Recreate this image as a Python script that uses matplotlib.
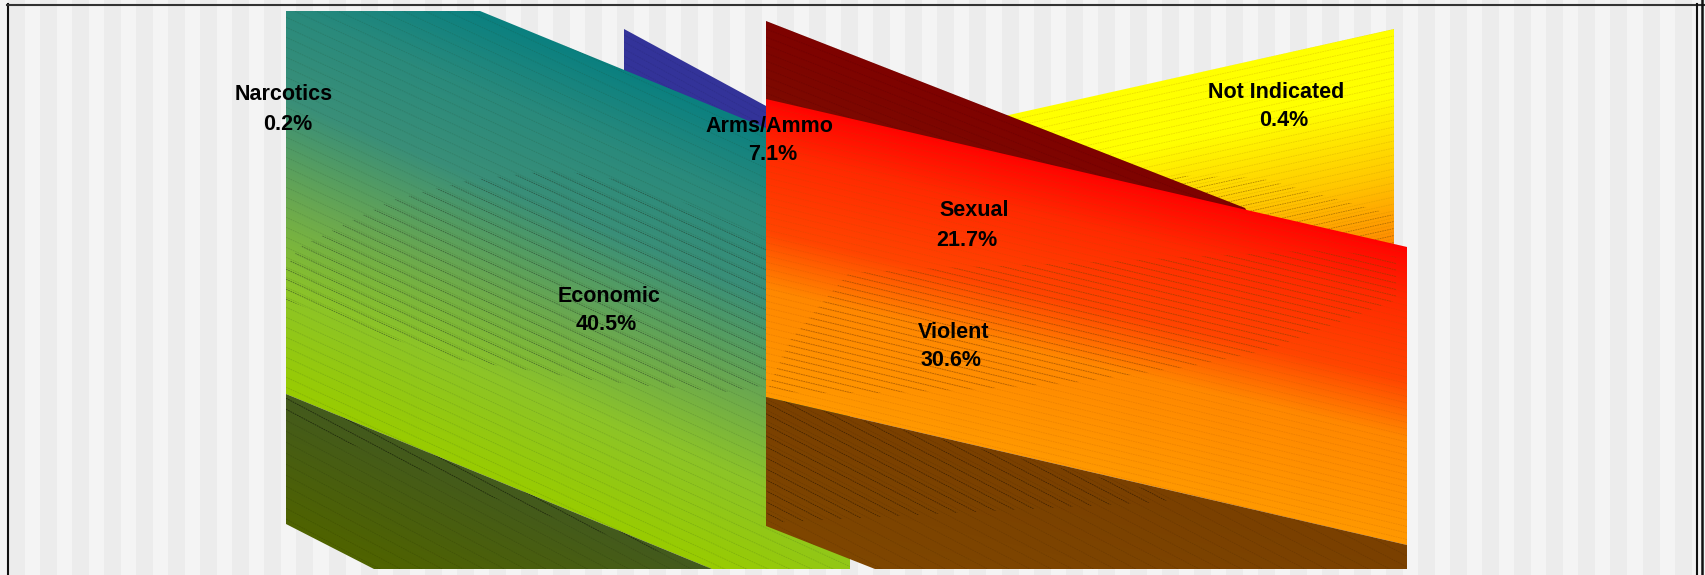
import numpy as np
import matplotlib
matplotlib.use('Agg')
import matplotlib.pyplot as plt
from matplotlib.patches import Polygon
from matplotlib.collections import LineCollection
from matplotlib.colors import to_rgb

# Chart values
categories = ['Narcotics', 'Economic', 'Arms/Ammo', 'Sexual', 'Violent', 'Not Indicated']
percents = [0.2, 40.5, 7.1, 21.7, 30.6, 0.4]

W, H = 1705, 575

# label placement, in pixels of the reference
name_x = [284, 609, 769, 974, 954, 1276]
name_y = [95, 297, 126, 211, 333, 93]
pct_x = [288, 606, 773, 967, 951, 1284]
pct_y = [124, 325, 154, 240, 361, 121]

# slice outlines, in pixels of the reference
blue_top = [(624, 29), (766, 106), (766, 150), (624, 90)]
yellow_top = [(1000, 117), (1394, 29), (1394, 260), (1200, 220)]
green_top = [(286, 11), (480, 11), (766, 128), (850, 300), (850, 569), (712, 569), (286, 394)]
green_side = [(286, 394), (712, 569), (374, 569), (286, 524)]
maroon_top = [(766, 21), (1245, 208), (1300, 300), (766, 150)]
red_top = [(766, 99), (1407, 247), (1407, 545), (766, 397)]
brown_side = [(766, 397), (1407, 545), (1407, 569), (875, 569), (766, 526)]

# regions where the hatch lines show darker
green_lens = [(286, 267), (300, 247), (393, 200), (470, 180), (557, 170), (620, 180), (690, 205),
              (766, 240), (766, 385), (729, 392), (638, 385), (577, 378), (508, 367), (460, 360),
              (380, 335), (286, 300)]
red_lens = [(767, 391), (790, 340), (831, 293), (849, 273), (939, 268), (1024, 265), (1096, 262),
            (1228, 255), (1318, 250), (1396, 257), (1396, 300), (1267, 350), (1193, 366),
            (1079, 382), (981, 389), (887, 393), (811, 393)]
yellow_lens = [(1160, 175), (1260, 178), (1394, 215), (1394, 262), (1250, 225)]
green_side_lens = [(286, 394), (712, 569), (500, 500), (286, 420)]
brown_lens = [(766, 397), (1180, 497), (1160, 502), (767, 523)]


def gradient_poly(ax, pts, stops, slope, z):
    # fill a polygon with a gradient whose bands run along the given slope
    xx, yy = np.meshgrid(np.arange(W) + 0.5, np.arange(H) + 0.5)
    level = yy - slope * xx
    pos = [s[0] for s in stops]
    rgb = np.array([to_rgb(s[1]) for s in stops])
    img = np.dstack([np.interp(level, pos, rgb[:, i]) for i in range(3)])
    im = ax.imshow(img, extent=(0, W, H, 0), aspect='auto', zorder=z, interpolation='nearest')
    patch = Polygon(pts, closed=True, transform=ax.transData, fc='none', ec='none')
    ax.add_patch(patch)
    im.set_clip_path(patch)


def hatch(ax, pts, slope, gap, color, alpha, z, dash=(2, 1), lw=0.6):
    # thin parallel dashes clipped to a polygon
    pts = np.array(pts)
    low = (pts[:, 1] - slope * pts[:, 0]).min()
    high = (pts[:, 1] - slope * pts[:, 0]).max()
    x0, x1 = pts[:, 0].min(), pts[:, 0].max()
    segs = [[(x0, c + slope * x0), (x1, c + slope * x1)] for c in np.arange(low, high, gap)]
    lc = LineCollection(segs, colors=color, alpha=alpha, linewidths=lw,
                        linestyles=[(0, dash)], zorder=z)
    ax.add_collection(lc)
    patch = Polygon(pts, closed=True, transform=ax.transData, fc='none', ec='none')
    ax.add_patch(patch)
    lc.set_clip_path(patch)


fig = plt.figure(figsize=(W / 100, H / 100), dpi=100)
ax = fig.add_axes([0, 0, 1, 1])
ax.set_xlim(0, W)
ax.set_ylim(H, 0)
ax.axis('off')

# striped backdrop
ax.axvspan(0, W, color='#f4f4f4', lw=0, zorder=0)
for x in np.arange(8, W, 32.05):
    ax.axvspan(x, x + 17, color='#ececec', lw=0, zorder=0.1)

gradient_poly(ax, blue_top, [(0, '#333399'), (1, '#333399')], 0.5, 1)
hatch(ax, blue_top, 0.55, 7, '#222266', 0.25, 1.1)

gradient_poly(ax, yellow_top, [(400, '#ffff00'), (480, '#ffc800'), (560, '#ff8000')], -0.22, 2)
hatch(ax, yellow_top, -0.22, 7, '#b08000', 0.25, 2.1)
hatch(ax, yellow_lens, -0.22, 7, '#805000', 0.6, 2.2)

gradient_poly(ax, green_top, [(-186, '#0a8080'), (-106, '#2a8a7c'), (-17, '#3a8f78'),
                              (83, '#6aa850'), (173, '#8dc428'), (277, '#99cc00')], 0.41, 3)
hatch(ax, green_top, 0.46, 10, '#204020', 0.18, 3.1)
hatch(ax, green_lens, 0.46, 10, '#203020', 0.55, 3.2)

gradient_poly(ax, green_side, [(277, '#435a1e'), (407, '#4f6300')], 0.41, 4)
hatch(ax, green_side, 0.53, 11, '#000000', 0.12, 4.1)
hatch(ax, green_side_lens, 0.53, 11, '#000000', 0.45, 4.2)

gradient_poly(ax, maroon_top, [(-300, '#7f0000'), (-200, '#7d0a00'), (100, '#800800')], 0.39, 5)
hatch(ax, maroon_top, 0.39, 8, '#400000', 0.2, 5.1)

gradient_poly(ax, red_top, [(-80, '#ff0000'), (-73, '#ff0800'), (-26, '#ff2a00'), (54, '#ff4500'),
                            (112, '#ff8800'), (219, '#ff9900')], 0.232, 6)
hatch(ax, red_top, 0.24, 6.5, '#b05000', 0.2, 6.1)
hatch(ax, red_lens, 0.24, 6.5, '#804000', 0.6, 6.2)

gradient_poly(ax, brown_side, [(219, '#7a4000'), (400, '#804800')], 0.232, 7)
hatch(ax, brown_side, 0.52, 11, '#000000', 0.1, 7.1)
hatch(ax, brown_lens, 0.52, 11, '#000000', 0.45, 7.2)

# frame
ax.plot([7.5, 7.5], [4, H], color='#111111', lw=1.5, zorder=9)
ax.plot([7, W], [4.5, 4.5], color='#333333', lw=1.5, zorder=9)
ax.plot([1697.3, 1697.3], [4, H], color='#111111', lw=1.5, zorder=9)
ax.plot([1702, 1702], [0, H], color='#111111', lw=1.8, zorder=9)

# labels
for name, p, nx, ny, px, py in zip(categories, percents, name_x, name_y, pct_x, pct_y):
    ax.text(nx, ny, name, ha='center', va='center', fontsize=15.5, fontweight='bold',
            family='Liberation Sans', color='black', zorder=10)
    ax.text(px, py, f'{p}%', ha='center', va='center', fontsize=15.5, fontweight='bold',
            family='Liberation Sans', color='black', zorder=10)

fig.savefig('out.png', dpi=100)
